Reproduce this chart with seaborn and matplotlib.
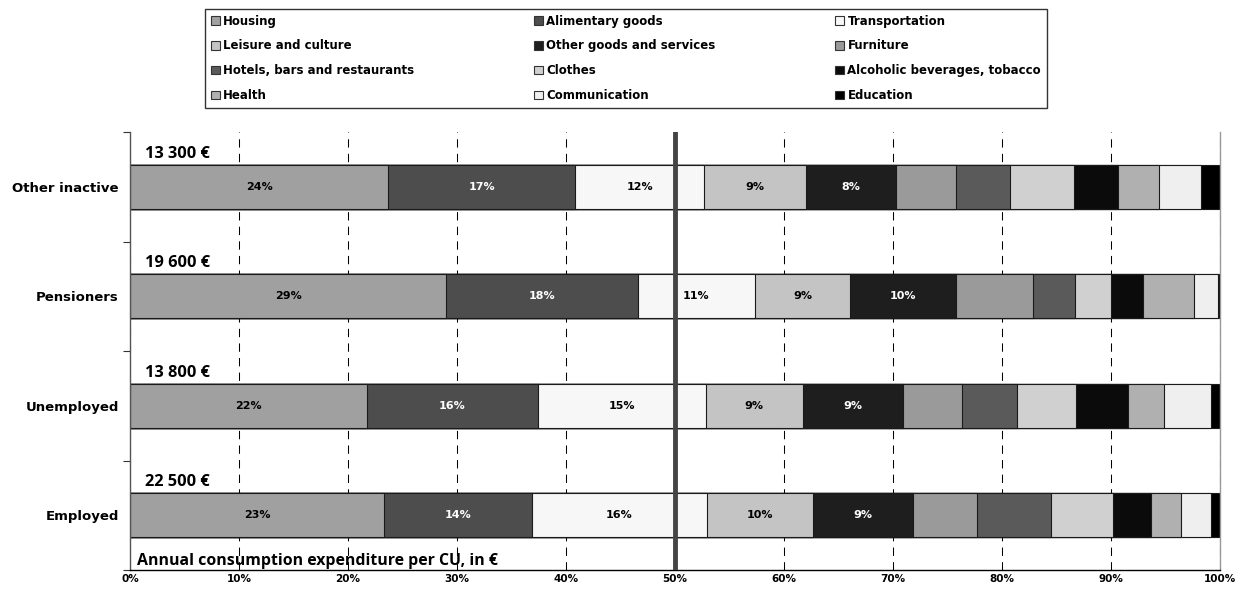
import numpy as np
import pandas as pd
import matplotlib
matplotlib.use("Agg")
import matplotlib.pyplot as plt
from matplotlib.patches import Patch
import seaborn as sns

# Household groups (top to bottom) and their annual consumption per CU
groups = ["Other inactive", "Pensioners", "Unemployed", "Employed"]
spending = [13300, 19600, 13800, 22500]

items = [
    "Housing", "Alimentary goods", "Transportation",
    "Leisure and culture", "Other goods and services", "Furniture",
    "Hotels, bars and restaurants", "Clothes", "Alcoholic beverages, tobacco",
    "Health", "Communication", "Education",
]

# Budget shares (%) per group, same order as `groups`
housing = [23.7, 29.0, 21.7, 23.3]
alimentary = [17.1, 17.6, 15.7, 13.6]
transportation = [11.9, 10.7, 15.4, 16.0]
leisure = [9.3, 8.8, 8.9, 9.8]
other_goods = [8.3, 9.7, 9.2, 9.1]
furniture = [5.5, 7.0, 5.4, 5.9]
hotels = [4.9, 3.9, 5.1, 6.8]
clothes = [5.9, 3.3, 5.4, 5.7]
alcohol = [4.0, 2.9, 4.8, 3.5]
health = [3.8, 4.7, 3.3, 2.7]
communication = [3.9, 2.2, 4.3, 2.8]
education = [1.7, 0.2, 0.8, 0.8]

x_ticks = [0, 10, 20, 30, 40, 50, 60, 70, 80, 90, 100]
axis_note = "Annual consumption expenditure per CU, in €"

colors = ["#a0a0a0", "#4d4d4d", "#f7f7f7", "#c4c4c4", "#1e1e1e", "#9a9a9a",
          "#5a5a5a", "#d0d0d0", "#0b0b0b", "#b0b0b0", "#efefef", "#000000"]
dark_fill = {"Alimentary goods", "Other goods and services"}
labelled = items[:5]

shares = pd.DataFrame(
    np.column_stack([housing, alimentary, transportation, leisure, other_goods,
                     furniture, hotels, clothes, alcohol, health,
                     communication, education]),
    index=groups, columns=items,
)
cum = shares.cumsum(axis=1)
start = cum - shares

sns.set_theme(style="white")
plt.rcParams["font.family"] = ["DejaVu Sans"]
plt.rcParams.update({"text.color": "black", "xtick.color": "black",
                     "ytick.color": "black", "axes.labelcolor": "black"})

fig = plt.figure(figsize=(12.45, 5.89), dpi=100)
ax = fig.add_axes([130 / 1245, 1 - 570 / 589, 1090 / 1245, 438 / 589])

# Stacked bars: draw cumulative totals from the outermost segment inwards
for item, col in reversed(list(zip(items, colors))):
    d = pd.DataFrame({"group": groups, "value": cum[item].values})
    sns.barplot(data=d, x="value", y="group", order=groups, orient="h",
                color=col, saturation=1, width=0.4, edgecolor="#1a1a1a",
                linewidth=0.8, errorbar=None, ax=ax)

# Percentage labels on the main segments, spending label above each bar
for i, g in enumerate(groups):
    for item in labelled:
        v = shares.loc[g, item]
        if v >= 8:
            ax.text(start.loc[g, item] + v / 2, i, f"{v:.0f}%",
                    ha="center", va="center", fontsize=8, fontweight="bold",
                    color="white" if item in dark_fill else "black", zorder=6)
    ax.text(1.4, i - 0.3, f"{spending[i]:,} €".replace(",", " "),
            ha="left", va="center", fontsize=11.8, fontweight="bold",
            family="Open Sans", color="black", zorder=6)

ax.text(0.6, 3.42, axis_note, ha="left", va="center", fontsize=11.4,
        fontweight="bold", family="Open Sans", color="black", zorder=6)

ax.axvline(50, color="#444444", lw=3.5, zorder=5)

ax.set_xlim(0, 100)
ax.set_ylim(3.5, -0.5)
ax.set_xticks(x_ticks)
ax.set_xticklabels([f"{t}%" for t in x_ticks], fontsize=7.5, fontweight="bold")
ax.tick_params(axis="x", length=0, pad=3)

ax.set_yticks(np.arange(len(groups) + 1) - 0.5)
ax.set_yticklabels([])
ax.set_yticks(np.arange(len(groups)), minor=True)
ax.set_yticklabels(groups, minor=True, fontsize=9.5, fontweight="bold")
ax.tick_params(axis="y", which="major", length=5, width=0.8, color="#333333",
               direction="out", left=True)
ax.tick_params(axis="y", which="minor", length=0, pad=8)

ax.set_xlabel("")
ax.set_ylabel("")
ax.set_axisbelow(True)
ax.grid(axis="x", color="black", lw=0.75, linestyle=(0, (8, 6)))
ax.grid(axis="y", visible=False)
ax.spines["top"].set_visible(False)
ax.spines["right"].set_color("#999999")
ax.spines["right"].set_linewidth(1)
ax.spines["left"].set_color("#555555")
ax.spines["bottom"].set_color("black")
for s in ("left", "bottom"):
    ax.spines[s].set_linewidth(1)

# Legend laid out row by row (matplotlib fills columns first)
ncol, nrow = 3, 4
order = [r * ncol + c for c in range(ncol) for r in range(nrow)]
handles = [Patch(facecolor=colors[k], edgecolor="#333333", lw=0.8) for k in order]
labels = [items[k] for k in order]
leg = fig.legend(handles, labels, loc="lower left",
                 bbox_to_anchor=(205 / 1245, 1 - 108 / 589, 842 / 1245, 98 / 589),
                 mode="expand", ncol=ncol, frameon=True, fancybox=False,
                 edgecolor="black", borderaxespad=0, handlelength=0.75,
                 handleheight=0.75, handletextpad=0.3, labelspacing=1.0,
                 borderpad=0.5, prop={"size": 8.5, "weight": "bold"})
leg.get_frame().set_linewidth(1)
for t in leg.get_texts():
    t.set_color("black")

fig.savefig("out.png", dpi=100)
